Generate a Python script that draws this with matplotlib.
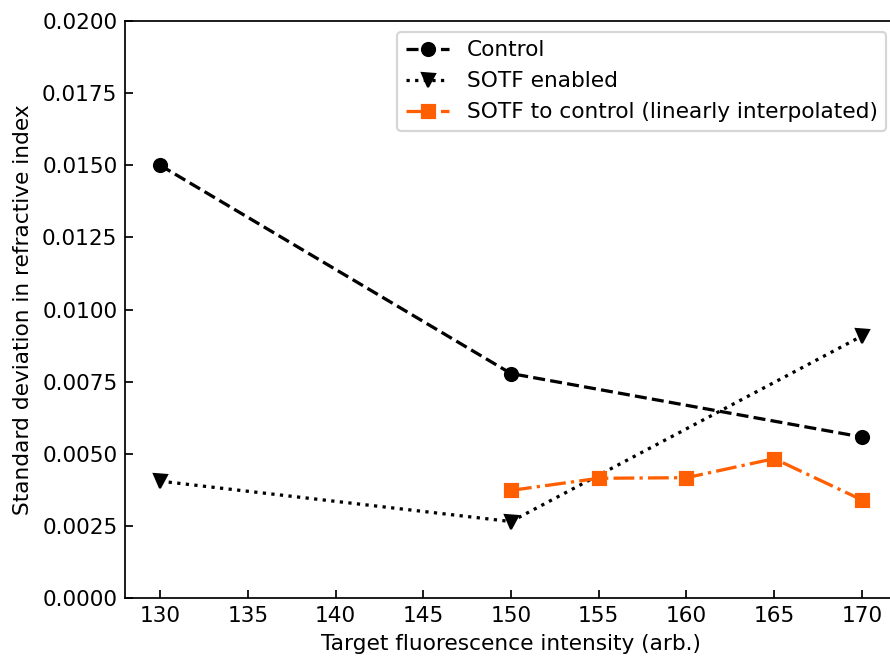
import matplotlib
matplotlib.use("Agg")
import matplotlib.pyplot as plt
from matplotlib.ticker import FormatStrFormatter

x_control = [130, 150, 170]
control = [0.0150, 0.00778, 0.00558]
x_sotf = [130, 150, 170]
sotf = [0.00405, 0.00265, 0.00908]
x_interp = [150, 155, 160, 165, 170]
interp = [0.00373, 0.00415, 0.00417, 0.00483, 0.00340]

DPI = 156
fig = plt.figure(figsize=(890/DPI, 656/DPI), dpi=DPI)
ax = fig.add_axes([125/890, 58/656, 772/890, (598-21)/656])

ax.plot(x_control, control, 'k--o', lw=1.5, label='Control')
ax.plot(x_sotf, sotf, 'k:v', lw=1.5, label='SOTF enabled')
ax.plot(x_interp, interp, '-.s', color='#ff5f00', lw=1.5,
        label='SOTF to control (linearly interpolated)')

ax.set_xlim(128, 172)
ax.set_ylim(0, 0.02)
ax.set_xticks([130, 135, 140, 145, 150, 155, 160, 165, 170])
ax.set_yticks([0, 0.0025, 0.005, 0.0075, 0.01, 0.0125, 0.015, 0.0175, 0.02])
ax.yaxis.set_major_formatter(FormatStrFormatter('%.4f'))
ax.tick_params(direction='in')
ax.spines['right'].set_visible(False)
ax.set_xlabel('Target fluorescence intensity (arb.)')
ax.set_ylabel('Standard deviation in refractive index')
ax.legend(loc='upper right')

fig.savefig('out.png', dpi=DPI)
